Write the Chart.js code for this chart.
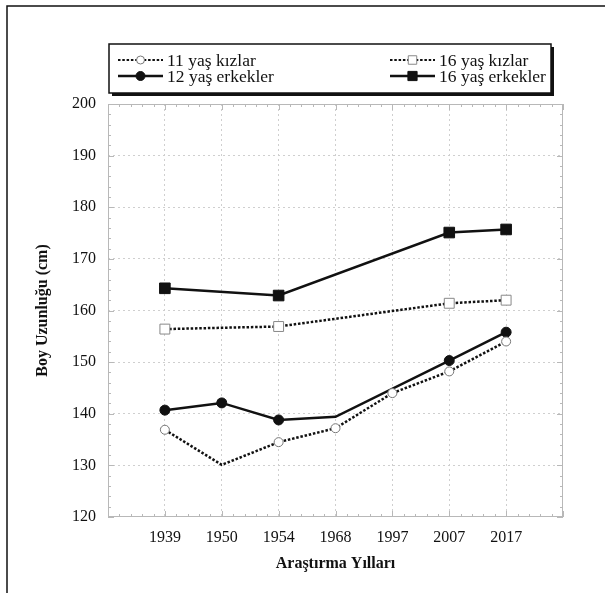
<!DOCTYPE html>
<html>
<head>
<meta charset="utf-8">
<script src="https://cdn.jsdelivr.net/npm/chart.js@4"></script>
<style>
  html, body { margin: 0; padding: 0; background: #fff; }
  #wrap { position: relative; width: 605px; height: 593px; }
</style>
</head>
<body>
<div id="wrap"><canvas id="c" width="605" height="593"></canvas></div>
<script>
// Araştırma yılları (x kategorileri)
const years = ['1939', '1950', '1954', '1968', '1997', '2007', '2017'];

// Ortalama boy uzunlukları (cm); null = o yılda ölçüm yok
const girls11 = [136.9, 130.1, 134.5, 137.2, 144.0, 148.2, 154.0];
const boys12  = [140.7, 142.1, 138.8, 139.4, null, 150.3, 155.8];
const girls16 = [156.4, null, 156.9, null, null, 161.4, 162.0];
const boys16  = [164.3, null, 162.9, null, null, 175.1, 175.7];

// Noktası çizilmeyen köşeler
const girls11Radius = [4.5, 0, 4.5, 4.5, 4.5, 4.5, 4.5];
const boys12Radius  = [5, 5, 5, 0, 5, 5, 5];

const yTicks = [120, 130, 140, 150, 160, 170, 180, 190, 200];

const SERIF = '"Liberation Serif", "Times New Roman", serif';

// x ekseninde yıllar 1..7 konumlarına yerleşir, iki yanda birer boş aralık kalır
const toPoints = vals => vals.map((v, i) => ({ x: i + 1, y: v }));

const datasets = [
  {
    label: '11 yaş kızlar',
    data: toPoints(girls11),
    borderColor: '#111', borderWidth: 2.5, borderDash: [2.5, 1.8],
    pointStyle: 'circle', pointRadius: girls11Radius,
    pointBackgroundColor: '#fff', pointBorderColor: '#777', pointBorderWidth: 1,
    legendCol: 0, legendRow: 0, legendRadius: 4
  },
  {
    label: '12 yaş erkekler',
    data: toPoints(boys12),
    borderColor: '#111', borderWidth: 2.5,
    pointStyle: 'circle', pointRadius: boys12Radius,
    pointBackgroundColor: '#111', pointBorderColor: '#111', pointBorderWidth: 1,
    legendCol: 0, legendRow: 1, legendRadius: 4.5
  },
  {
    label: '16 yaş kızlar',
    data: toPoints(girls16),
    borderColor: '#111', borderWidth: 2.5, borderDash: [2.5, 1.8],
    pointStyle: 'rect', pointRadius: 7,
    pointBackgroundColor: '#fff', pointBorderColor: '#888', pointBorderWidth: 1,
    legendCol: 1, legendRow: 0, legendRadius: 6
  },
  {
    label: '16 yaş erkekler',
    data: toPoints(boys16),
    borderColor: '#111', borderWidth: 2.5,
    pointStyle: 'rect', pointRadius: 7.5,
    pointBackgroundColor: '#111', pointBorderColor: '#111', pointBorderWidth: 1,
    legendCol: 1, legendRow: 1, legendRadius: 6.5
  }
];
datasets.forEach(d => { d.spanGaps = true; d.tension = 0; d.fill = false; });

// Dış çerçeve, çizim alanı kenarlığı ve ara çentikler
const framePlugin = {
  id: 'frame',
  beforeDraw(chart) {
    const ctx = chart.ctx;
    ctx.save();
    ctx.strokeStyle = '#111';
    ctx.lineWidth = 1.5;
    ctx.beginPath();
    ctx.moveTo(7, 593);
    ctx.lineTo(7, 6);
    ctx.lineTo(605, 6);
    ctx.stroke();
    ctx.restore();
  },
  beforeDatasetsDraw(chart) {
    const { ctx, chartArea: a, scales: { x, y } } = chart;
    ctx.save();
    ctx.strokeStyle = '#b8b8b8';
    ctx.lineWidth = 1;
    ctx.strokeRect(a.left + 0.5, a.top + 0.5, a.right - a.left - 1, a.bottom - a.top - 1);
    ctx.beginPath();
    // y: her 2 cm'de bir çentik, 10'un katlarında uzun
    for (let v = 120; v <= 200; v += 2) {
      const py = Math.round(y.getPixelForValue(v)) + 0.5;
      const len = v % 10 === 0 ? 6 : 3;
      ctx.moveTo(a.left, py); ctx.lineTo(a.left + len, py);
      ctx.moveTo(a.right, py); ctx.lineTo(a.right - len, py);
    }
    // x: her yıl aralığında dört ara çentik
    for (let k = 0; k <= 40; k++) {
      const v = k / 5;
      const px = Math.round(x.getPixelForValue(v)) + 0.5;
      const len = k % 5 === 0 ? 6 : 3;
      ctx.moveTo(px, a.bottom); ctx.lineTo(px, a.bottom - len);
      ctx.moveTo(px, a.top); ctx.lineTo(px, a.top + len);
    }
    ctx.stroke();
    ctx.restore();
  }
};

// Gölgeli kutu içinde iki sütunlu gösterge
const legendPlugin = {
  id: 'boxLegend',
  afterDraw(chart) {
    const ctx = chart.ctx;
    const bx = 109, by = 44, bw = 442, bh = 49;
    ctx.save();
    ctx.fillStyle = '#111';
    ctx.fillRect(bx + 3, by + 3, bw, bh);
    ctx.fillStyle = '#fff';
    ctx.fillRect(bx, by, bw, bh);
    ctx.strokeStyle = '#111';
    ctx.lineWidth = 1.5;
    ctx.strokeRect(bx, by, bw, bh);

    const colX = [118, 390];
    const rowY = [60, 76];
    chart.data.datasets.forEach(d => {
      const x0 = colX[d.legendCol], y0 = rowY[d.legendRow];
      const x1 = x0 + 45, mid = (x0 + x1) / 2;
      ctx.save();
      ctx.strokeStyle = d.borderColor;
      ctx.lineWidth = d.borderDash ? 2.2 : 2.5;
      ctx.setLineDash(d.borderDash || []);
      ctx.beginPath();
      ctx.moveTo(x0, y0); ctx.lineTo(x1, y0);
      ctx.stroke();
      ctx.setLineDash([]);
      const r = d.legendRadius;
      ctx.fillStyle = d.pointBackgroundColor;
      ctx.strokeStyle = d.pointBorderColor;
      ctx.lineWidth = d.pointBorderWidth;
      ctx.beginPath();
      if (d.pointStyle === 'rect') {
        const s = r * Math.SQRT1_2;
        ctx.rect(mid - s, y0 - s, 2 * s, 2 * s);
      } else {
        ctx.arc(mid, y0, r, 0, Math.PI * 2);
      }
      ctx.fill();
      ctx.stroke();
      ctx.restore();

      ctx.fillStyle = '#111';
      ctx.font = '17.5px ' + SERIF;
      ctx.textBaseline = 'middle';
      ctx.textAlign = 'left';
      ctx.fillText(d.label, x1 + 4, y0 + 1);
    });
    ctx.restore();
  }
};

new Chart(document.getElementById('c'), {
  type: 'line',
  data: { datasets },
  plugins: [framePlugin, legendPlugin],
  options: {
    responsive: false,
    animation: false,
    layout: { padding: { left: 0, right: 42, top: 104, bottom: 0 } },
    plugins: { legend: { display: false }, tooltip: { enabled: false } },
    scales: {
      x: {
        type: 'linear',
        min: 0, max: 8,
        afterFit(scale) { scale.height = 76; },
        afterBuildTicks(scale) {
          scale.ticks = years.map((_, i) => ({ value: i + 1 }));
        },
        ticks: {
          autoSkip: false,
          maxRotation: 0,
          padding: 11,
          color: '#111',
          font: { family: SERIF, size: 16 },
          callback: v => years[v - 1] ?? ''
        },
        grid: {
          drawTicks: false,
          color: '#cfcfcf',
          lineWidth: 1
        },
        border: { display: false, dash: [2, 3] },
        title: {
          display: true,
          text: 'Araştırma Yılları',
          color: '#111',
          font: { family: SERIF, size: 16, weight: 'bold' },
          padding: { top: 0, bottom: 20 }
        }
      },
      y: {
        min: 120, max: 200,
        afterFit(scale) { scale.width = 108; },
        afterBuildTicks(scale) {
          scale.ticks = yTicks.map(v => ({ value: v }));
        },
        ticks: {
          padding: 12,
          color: '#111',
          font: { family: SERIF, size: 16 }
        },
        grid: {
          drawTicks: false,
          color: ctx => (ctx.tick && (ctx.tick.value === 120 || ctx.tick.value === 200)) ? 'rgba(0,0,0,0)' : '#cfcfcf',
          lineWidth: 1
        },
        border: { display: false, dash: [2, 3] },
        title: {
          display: true,
          text: 'Boy Uzunluğu (cm)',
          color: '#111',
          font: { family: SERIF, size: 16, weight: 'bold' },
          padding: { top: 33, bottom: 0 }
        }
      }
    }
  }
});
</script>
</body>
</html>
